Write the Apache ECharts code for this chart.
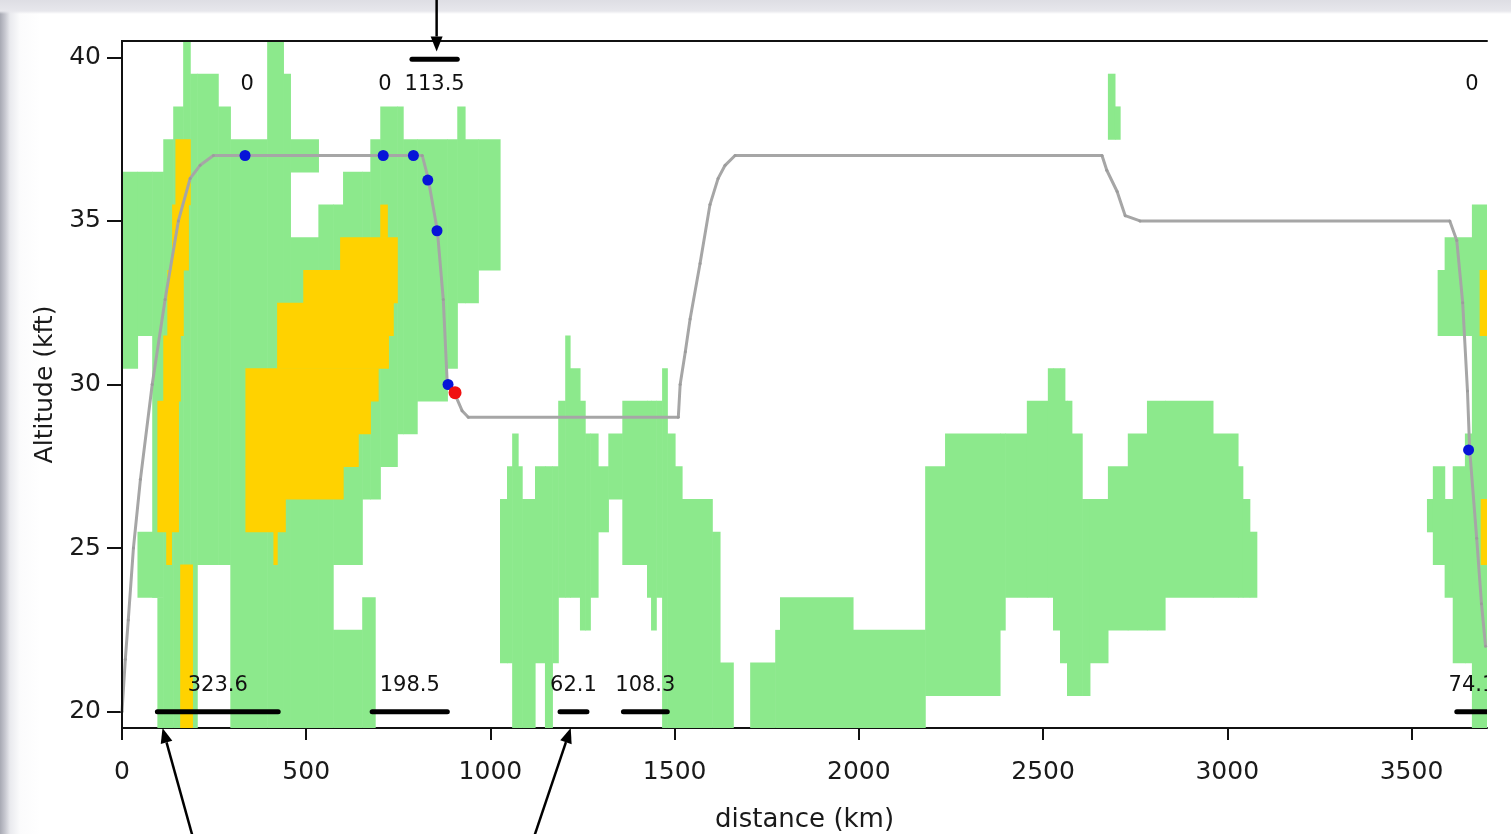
<!DOCTYPE html>
<html><head><meta charset="utf-8">
<script src="https://cdn.jsdelivr.net/npm/echarts@6/dist/echarts.min.js"></script>
<style>
html,body{margin:0;padding:0;width:1511px;height:834px;overflow:hidden;}
body{background:
 linear-gradient(to bottom, rgba(222,222,228,1) 0px, rgba(231,231,236,1) 11px, rgba(255,255,255,0) 14px),
 linear-gradient(to right, #a7a9b3 0px, #c6c7cf 5px, #e9eaee 10px, #fbfbfc 20px, #ffffff 40px);}
#chart{width:1511px;height:834px;}
</style></head><body><div id="chart"></div>
<script>
// ---- axis ticks ----
const xTicks = [0, 500, 1000, 1500, 2000, 2500, 3000, 3500];
const yTicks = [20, 25, 30, 35, 40];

// ---- cloud cells: [km start, km end, alt low, alt high] ----
const greenCells = [
  // left cluster
  [0, 42, 30.5, 36.5], [42, 82, 31.5, 36.5], [42, 96, 23.5, 25.5], [82, 112, 23.5, 36.5],
  [96, 112, 19.5, 23.5], [112, 139, 19.5, 37.5], [139, 166, 19.5, 38.5], [166, 185, 19.5, 40.5],
  [185, 204, 19.5, 39.5], [204, 261, 24.5, 39.5], [261, 294, 24.5, 38.5], [294, 394, 19.5, 37.5],
  [394, 438, 19.5, 40.5], [438, 457, 19.5, 39.5], [457, 533, 36.5, 37.5], [457, 533, 19.5, 34.5],
  [533, 573, 19.5, 35.5], [573, 600, 24.5, 35.5], [600, 652, 24.5, 36.5], [652, 674, 26.5, 36.5],
  [573, 652, 19.5, 22.5], [652, 687, 19.5, 23.5], [674, 701, 26.5, 37.5], [701, 747, 27.5, 38.5],
  [747, 763, 28.5, 38.5], [763, 801, 28.5, 37.5], [801, 883, 29.5, 37.5], [883, 910, 30.5, 37.5],
  [910, 931, 32.5, 38.5], [931, 967, 32.5, 37.5], [967, 1026, 33.5, 37.5],
  // middle cluster
  [1026, 1045, 21.5, 26.5], [1045, 1059, 21.5, 27.5], [1059, 1075, 19.5, 28.5], [1075, 1086, 19.5, 27.5],
  [1086, 1121, 19.5, 26.5], [1121, 1148, 21.5, 27.5], [1148, 1168, 19.5, 27.5], [1168, 1184, 21.5, 27.5],
  [1184, 1203, 23.5, 29.5], [1203, 1216, 23.5, 31.5], [1216, 1243, 23.5, 30.5], [1243, 1257, 22.5, 29.5],
  [1257, 1271, 22.5, 28.5], [1271, 1292, 23.5, 28.5], [1292, 1320, 25.5, 27.5], [1320, 1358, 26.5, 28.5],
  [1358, 1425, 24.5, 29.5], [1425, 1436, 23.5, 29.5], [1436, 1450, 22.5, 29.5], [1450, 1466, 23.5, 29.5],
  [1466, 1480, 19.5, 30.5], [1480, 1501, 19.5, 28.5], [1501, 1520, 19.5, 27.5], [1520, 1602, 19.5, 26.5],
  [1602, 1623, 19.5, 25.5], [1623, 1659, 19.5, 21.5],
  // right-middle block
  [1705, 1773, 19.5, 21.5], [1773, 1786, 19.5, 22.5], [1786, 1984, 19.5, 23.5], [1984, 2180, 19.5, 22.5],
  [2180, 2234, 20.5, 27.5], [2234, 2383, 20.5, 28.5], [2383, 2397, 22.5, 28.5], [2397, 2456, 23.5, 28.5],
  [2456, 2513, 23.5, 29.5], [2513, 2527, 23.5, 30.5], [2527, 2546, 22.5, 30.5], [2546, 2559, 21.5, 30.5],
  [2559, 2565, 21.5, 29.5], [2565, 2578, 20.5, 29.5], [2578, 2606, 20.5, 28.5], [2606, 2627, 20.5, 26.5],
  [2627, 2676, 21.5, 26.5], [2676, 2730, 22.5, 27.5], [2730, 2782, 22.5, 28.5], [2782, 2831, 22.5, 29.5],
  [2831, 2961, 23.5, 29.5], [2961, 3029, 23.5, 28.5], [3029, 3042, 23.5, 27.5], [3042, 3061, 23.5, 26.5],
  [3061, 3080, 23.5, 25.5],
  [2676, 2695, 37.5, 39.5], [2695, 2709, 37.5, 38.5],
  // right edge cluster
  [3571, 3590, 31.5, 33.5], [3590, 3664, 31.5, 34.5], [3664, 3705, 19.5, 35.5],
  [3542, 3558, 25.5, 26.5], [3558, 3590, 24.5, 27.5], [3590, 3612, 23.5, 26.5],
  [3612, 3645, 21.5, 27.5], [3645, 3664, 21.5, 28.5]
];

const yellowCells = [
  [145, 185, 35.5, 37.5], [136, 180, 33.5, 35.5], [123, 166, 31.5, 33.5], [112, 158, 29.5, 31.5],
  [96, 153, 25.5, 29.5], [120, 134, 24.5, 25.5], [158, 191, 19.5, 24.5],
  [701, 720, 34.5, 35.5], [592, 747, 33.5, 34.5], [492, 747, 32.5, 33.5], [421, 736, 31.5, 32.5],
  [421, 723, 30.5, 31.5], [335, 695, 29.5, 30.5], [335, 674, 28.5, 29.5], [335, 641, 27.5, 28.5],
  [335, 600, 26.5, 27.5], [335, 443, 25.5, 26.5], [411, 421, 24.5, 25.5],
  [3685, 3705, 31.5, 33.5], [3688, 3705, 24.5, 26.5]
];

// ---- flight profile ----
const profileKm  = [0, 9, 17, 31, 50, 82, 117, 153, 185, 212, 248, 815, 831, 856, 872, 883, 904, 923, 940,
  1510, 1515, 1529, 1542, 1569, 1596, 1618, 1637, 1664, 2660, 2673, 2701, 2723, 2763, 3604, 3623, 3639,
  3652, 3658, 3677, 3690, 3701];
const profileAlt = [20.0, 21.6, 22.8, 25.0, 27.1, 30.0, 32.6, 35.0, 36.3, 36.7, 37.0, 37.0, 36.3, 34.7, 32.6,
  30.0, 29.7, 29.2, 29.0, 29.0, 30.0, 31.0, 32.0, 33.7, 35.5, 36.3, 36.7, 37.0, 37.0, 36.55, 35.9, 35.16,
  35.0, 35.0, 34.4, 32.5, 29.8, 28.0, 25.3, 23.3, 22.0];

const blueKm  = [334, 709, 791, 830, 855, 885, 3655];
const blueAlt = [37.0, 37.0, 37.0, 36.25, 34.7, 30.0, 28.0];
const redKm  = [904];
const redAlt = [29.75];

// ---- segment bars ----
const bottomStart  = [96, 679, 1189, 1361, 3623];
const bottomEnd    = [424, 883, 1262, 1480, 3705];
const bottomLabels = ['323.6', '198.5', '62.1', '108.3', '74.1'];
const bottomAlt = 20;
const topStart  = [340, 714, 787, 3664];
const topEnd    = [340, 714, 910, 3664];
const topLabels = ['0', '0', '113.5', '0'];
const topAlt = 39.94;

// ---- annotation arrows (tail -> tip) ----
const arrowTailKm  = [854, 194, 1116];
const arrowTailAlt = [41.9, 16.09, 16.09];
const arrowTipKm   = [854, 110, 1218];
const arrowTipAlt  = [40.18, 19.5, 19.5];

const FONT = '"DejaVu Sans", "Liberation Sans", sans-serif';

function cellSeries(cells, color) {
  return {
    type: 'custom', clip: true, z: 2,
    data: cells,
    encode: { x: [0, 1], y: [2, 3] },
    renderItem: function (params, api) {
      const p0 = api.coord([api.value(0), api.value(3)]);
      const p1 = api.coord([api.value(1), api.value(2)]);
      return { type: 'rect',
        shape: { x: p0[0], y: p0[1], width: p1[0] - p0[0] + 0.6, height: p1[1] - p0[1] + 0.6 },
        style: { fill: color } };
    }
  };
}

function segSeries(starts, ends, alt, labels, dy) {
  return {
    type: 'custom', clip: true, z: 6,
    data: starts.map((s, i) => [s, ends[i], alt]),
    encode: { x: [0, 1], y: 2 },
    renderItem: function (params, api) {
      const a = api.coord([api.value(0), api.value(2)]);
      const b = api.coord([api.value(1), api.value(2)]);
      const ch = [];
      if (b[0] - a[0] > 0.5) ch.push({ type: 'line', shape: { x1: a[0], y1: a[1], x2: b[0], y2: b[1] },
        style: { stroke: '#000', lineWidth: 5, lineCap: 'round' } });
      ch.push({ type: 'text', style: { text: labels[params.dataIndex], x: (a[0] + b[0]) / 2, y: a[1] + dy,
        align: 'center', verticalAlign: 'middle', fontSize: 21, fontFamily: FONT, fill: '#111' } });
      return { type: 'group', children: ch };
    }
  };
}

const chart = echarts.init(document.getElementById('chart'), null, { renderer: 'canvas' });
chart.setOption({
  animation: false,
  backgroundColor: 'transparent',
  grid: { left: 122, right: 24, top: 41, bottom: 106, show: false, containLabel: false, outerBoundsMode: 'none' },
  xAxis: [{
    type: 'value', min: 0, max: 3705, position: 'bottom',
    name: 'distance (km)', nameLocation: 'middle', nameGap: 79,
    nameTextStyle: { fontSize: 26, fontFamily: FONT, color: '#1a1a1a' },
    axisLine: { show: true, lineStyle: { color: '#111', width: 2 } },
    axisTick: { show: true, length: 12, customValues: xTicks, lineStyle: { color: '#111', width: 2 } },
    axisLabel: { customValues: xTicks, margin: 32, fontSize: 25, fontFamily: FONT, color: '#1a1a1a',
      formatter: function (v) { return String(v); } },
    splitLine: { show: false }
  }, {
    type: 'value', min: 0, max: 3705, position: 'top', z: 10,
    axisLine: { show: true, lineStyle: { color: '#111', width: 2 } },
    axisTick: { show: false }, axisLabel: { show: false }, splitLine: { show: false }
  }],
  yAxis: [{
    type: 'value', min: 19.5, max: 40.5, position: 'left',
    name: 'Altitude (kft)', nameLocation: 'middle', nameGap: 62,
    nameTextStyle: { fontSize: 25, fontFamily: FONT, color: '#1a1a1a' },
    axisLine: { show: true, lineStyle: { color: '#111', width: 2 } },
    axisTick: { show: true, length: 15, customValues: yTicks, lineStyle: { color: '#111', width: 2 } },
    axisLabel: { customValues: yTicks, margin: 21, fontSize: 25, fontFamily: FONT, color: '#1a1a1a',
      formatter: function (v) { return String(v); } },
    splitLine: { show: false }
  }, {
    type: 'value', min: 19.5, max: 40.5, position: 'right', z: 10,
    axisLine: { show: true, lineStyle: { color: '#111', width: 2 } },
    axisTick: { show: false }, axisLabel: { show: false }, splitLine: { show: false }
  }],
  series: [
    cellSeries(greenCells, '#8ce98c'),
    cellSeries(yellowCells, '#ffd200'),
    {
      type: 'line', z: 4,
      data: profileKm.map((k, i) => [k, profileAlt[i]]),
      symbol: 'circle', symbolSize: 3, showSymbol: true,
      itemStyle: { color: '#9c9c9c' },
      lineStyle: { color: '#a6a6a6', width: 3 }
    },
    {
      type: 'scatter', z: 5, symbolSize: 11,
      data: blueKm.map((k, i) => [k, blueAlt[i]]),
      itemStyle: { color: '#0714d8', opacity: 1 }
    },
    {
      type: 'scatter', z: 5, symbolSize: 13,
      data: redKm.map((k, i) => [k, redAlt[i]]),
      itemStyle: { color: '#f01010', opacity: 1 }
    },
    segSeries(bottomStart, bottomEnd, bottomAlt, bottomLabels, -26),
    segSeries(topStart, topEnd, topAlt, topLabels, 25),
    {
      type: 'custom', clip: false, z: 20,
      data: arrowTailKm.map((k, i) => [k, arrowTailAlt[i], arrowTipKm[i], arrowTipAlt[i]]),
      encode: { x: [0, 2], y: [1, 3] },
      renderItem: function (params, api) {
        const t = api.coord([api.value(0), api.value(1)]);
        const h = api.coord([api.value(2), api.value(3)]);
        const dx = h[0] - t[0], dy = h[1] - t[1];
        const len = Math.sqrt(dx * dx + dy * dy);
        const ux = dx / len, uy = dy / len;
        const hl = 15, hw = 6;
        const bx = h[0] - ux * hl, by = h[1] - uy * hl;
        return { type: 'group', children: [
          { type: 'line', shape: { x1: t[0], y1: t[1], x2: bx, y2: by }, style: { stroke: '#000', lineWidth: 2.5 } },
          { type: 'polygon', shape: { points: [[h[0], h[1]], [bx - uy * hw, by + ux * hw], [bx + uy * hw, by - ux * hw]] },
            style: { fill: '#000' } }
        ] };
      }
    }
  ]
});
</script></body></html>
